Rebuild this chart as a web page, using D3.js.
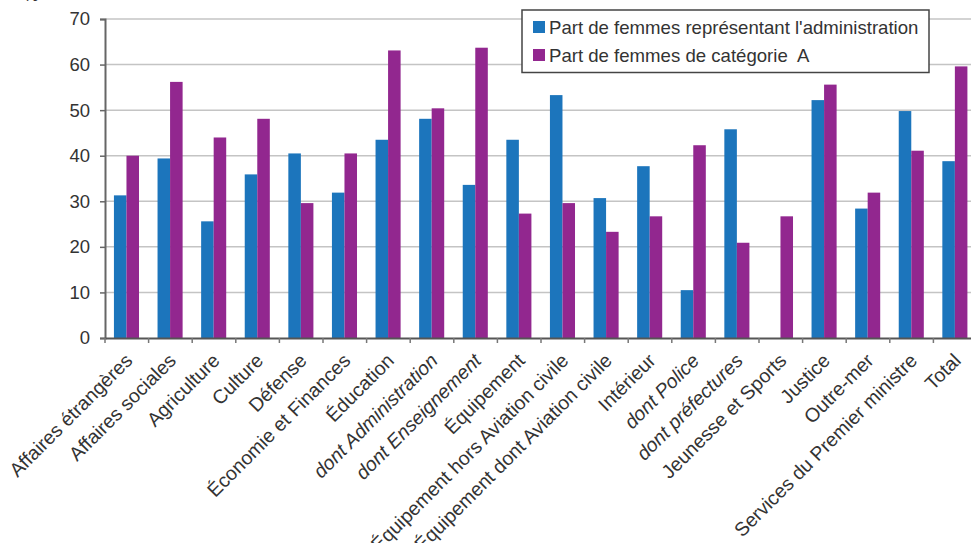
<!DOCTYPE html>
<html>
<head>
<meta charset="utf-8">
<script src="https://cdn.jsdelivr.net/npm/d3@7/dist/d3.min.js"></script>
<style>
  html, body { margin: 0; padding: 0; background: #fff; }
  svg { display: block; font-family: "Liberation Sans", Arial, sans-serif; }
  .legend-label { white-space: pre; }
</style>
</head>
<body>
<svg id="chart" width="971" height="543"></svg>
<script>
// Ministères
const categories = [
  "Affaires étrangères", "Affaires sociales", "Agriculture", "Culture", "Défense",
  "Économie et Finances", "Éducation", "dont Administration", "dont Enseignement",
  "Équipement", "Équipement hors Aviation civile", "Équipement dont Aviation civile",
  "Intérieur", "dont Police", "dont préfectures", "Jeunesse et Sports", "Justice",
  "Outre-mer", "Services du Premier ministre", "Total"
];

// Part de femmes représentant l'administration (%)
const adminShare = [
  31.3, 39.4, 25.6, 35.9, 40.5,
  31.9, 43.5, 48.1, 33.6,
  43.5, 53.3, 30.7,
  37.7, 10.5, 45.8, null, 52.2,
  28.4, 49.8, 38.8
];

// Part de femmes de catégorie A (%)
const catAShare = [
  40.0, 56.2, 44.0, 48.1, 29.6,
  40.5, 63.1, 50.4, 63.7,
  27.3, 29.6, 23.3,
  26.7, 42.3, 20.9, 26.7, 55.6,
  31.9, 41.1, 59.6
];

const seriesNames = [
  "Part de femmes représentant l'administration",
  "Part de femmes de catégorie  A"
];

const yTicks = [0, 10, 20, 30, 40, 50, 60, 70];

const colors = ["#1c75bc", "#92278f"];
const textColor = "#333";

const svg = d3.select("#chart");

const x = d3.scaleBand().domain(categories).range([105, 977]).padding(0);
const xSub = d3.scaleBand().domain([0, 1])
  .range([x.bandwidth() * 0.205, x.bandwidth() * 0.78]).padding(0);
const y = d3.scaleLinear().domain([0, 70]).range([338, 19]);

// unit label at the top-left
svg.append("text").attr("x", 31).attr("y", 1)
  .attr("font-size", 17).attr("fill", textColor).attr("text-anchor", "middle").text("%");

// horizontal grid
svg.append("g").selectAll("line").data(yTicks.filter(d => d > 0)).join("line")
  .attr("x1", 105).attr("x2", 971)
  .attr("y1", d => y(d)).attr("y2", d => y(d))
  .attr("stroke", "#c4c4c4").attr("stroke-width", 1.5);

// bars
const series = [adminShare, catAShare];
series.forEach((vals, si) => {
  svg.append("g").selectAll("rect")
    .data(categories.map((c, i) => ({ c, v: vals[i] })).filter(d => d.v != null))
    .join("rect")
    .attr("x", d => x(d.c) + xSub(si))
    .attr("width", xSub.bandwidth())
    .attr("y", d => y(d.v))
    .attr("height", d => y(0) - y(d.v))
    .attr("fill", colors[si]);
});

// y axis
const yAxis = svg.append("g").attr("transform", "translate(105,0)")
  .call(d3.axisLeft(y).tickValues(yTicks).tickSize(5).tickPadding(10).tickFormat(d3.format("d")));
yAxis.select(".domain").attr("stroke", "#666").attr("stroke-width", 2);
yAxis.selectAll(".tick line").attr("stroke", "#666").attr("stroke-width", 1.5);
yAxis.selectAll(".tick text").attr("font-size", 18.5).attr("fill", textColor)
  .attr("font-family", "Liberation Sans, Arial, sans-serif");

// x axis
const xAxis = svg.append("g").attr("transform", "translate(0,338)")
  .call(d3.axisBottom(x).tickValues(categories).tickSize(0).tickFormat(""));
xAxis.select(".domain").attr("stroke", "#555").attr("stroke-width", 2);
svg.append("g").selectAll("line").data(categories).join("line")
  .attr("x1", d => x(d)).attr("x2", d => x(d))
  .attr("y1", 338).attr("y2", 343)
  .attr("stroke", "#777").attr("stroke-width", 1.5);

// category labels
svg.append("g").selectAll("text").data(categories).join("text")
  .attr("transform", d => `translate(${x(d) + x.bandwidth() / 2 + 2},${357}) rotate(-45)`)
  .attr("text-anchor", "end")
  .attr("dy", "0.35em")
  .attr("font-size", 19.5)
  .attr("fill", textColor)
  .attr("font-style", d => d.startsWith("dont ") ? "italic" : "normal")
  .text(d => d);

// legend
const lg = svg.append("g");
lg.append("rect").attr("x", 522).attr("y", 10).attr("width", 407).attr("height", 62.5)
  .attr("fill", "#fff").attr("stroke", "#444").attr("stroke-width", 1.5);
seriesNames.forEach((name, i) => {
  const cy = 27 + i * 28;
  lg.append("rect").attr("x", 533).attr("y", cy - 6).attr("width", 12).attr("height", 12)
    .attr("fill", colors[i]);
  lg.append("text").attr("class", "legend-label")
    .attr("x", 549).attr("y", cy).attr("dy", "0.35em")
    .attr("font-size", 18.6).attr("fill", textColor).text(name);
});
</script>
</body>
</html>
